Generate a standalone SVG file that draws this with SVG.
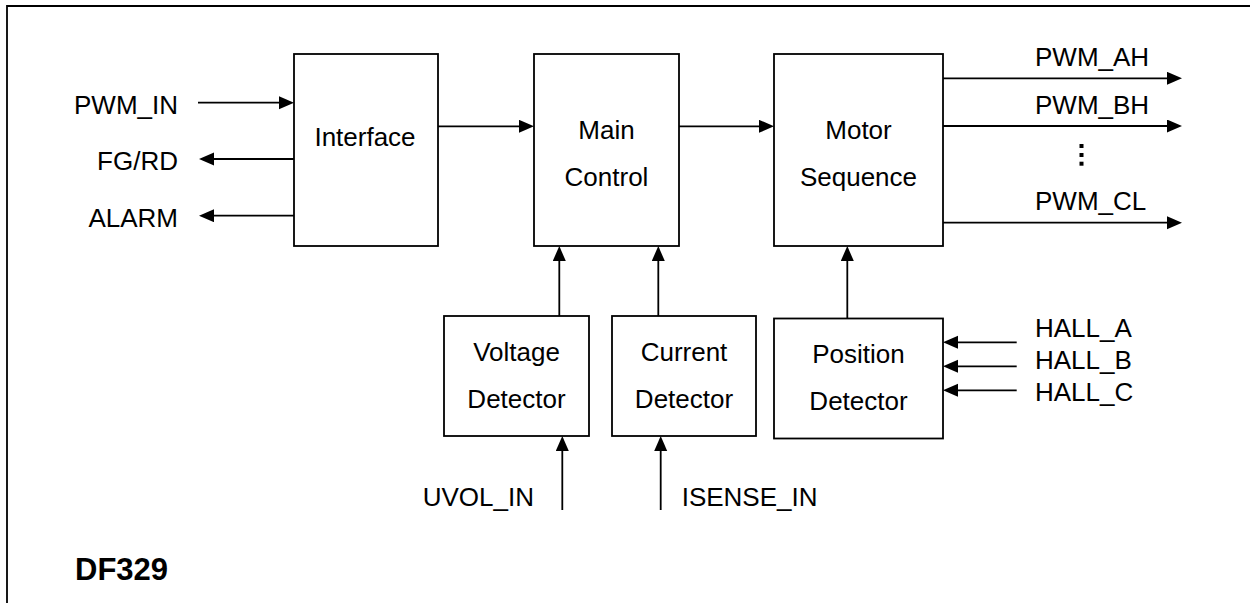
<svg xmlns="http://www.w3.org/2000/svg" width="1250" height="603" viewBox="0 0 1250 603">
<style>
  .box { fill: #fff; stroke: #000; stroke-width: 1.8; }
  .ln { stroke: #000; stroke-width: 1.8; fill: none; }
  text { font-family: "Liberation Sans", Arial, sans-serif; font-size: 26px; fill: #000; }
  .c { text-anchor: middle; }
  .e { text-anchor: end; }
  .title { font-weight: bold; font-size: 31px; }
</style>
<defs>
  <marker id="ah" markerUnits="userSpaceOnUse" markerWidth="16" markerHeight="14" refX="2" refY="6.5" orient="auto">
    <path d="M0,0 L15,6.5 L0,13 z" fill="#000"/>
  </marker>
</defs>
<rect width="1250" height="603" fill="#fff"/>
<g id="frame">
  <path class="ln" d="M7,603 V6 H1250"/>
</g>
<g id="interface">
  <rect class="box" x="294" y="54" width="144" height="192"/>
  <text class="c" x="365" y="146">Interface</text>
</g>
<g id="main-control">
  <rect class="box" x="534" y="54" width="145" height="192"/>
  <text class="c" x="606.5" y="139">Main</text>
  <text class="c" x="606.5" y="186">Control</text>
</g>
<g id="motor-sequence">
  <rect class="box" x="774" y="54" width="169" height="192"/>
  <text class="c" x="858.5" y="139">Motor</text>
  <text class="c" x="858.5" y="186">Sequence</text>
</g>
<g id="voltage-detector">
  <rect class="box" x="444" y="316" width="145" height="120"/>
  <text class="c" x="516.5" y="361">Voltage</text>
  <text class="c" x="516.5" y="408">Detector</text>
</g>
<g id="current-detector">
  <rect class="box" x="612" y="316" width="144" height="120"/>
  <text class="c" x="684" y="361">Current</text>
  <text class="c" x="684" y="408">Detector</text>
</g>
<g id="position-detector">
  <rect class="box" x="774" y="318.5" width="169" height="120"/>
  <text class="c" x="858.5" y="363">Position</text>
  <text class="c" x="858.5" y="409.5">Detector</text>
</g>
<g id="connectors">
  <line class="ln" x1="198" y1="102.7" x2="281" y2="102.7" marker-end="url(#ah)"/>
  <line class="ln" x1="294" y1="159" x2="212" y2="159" marker-end="url(#ah)"/>
  <line class="ln" x1="294" y1="215.7" x2="212" y2="215.7" marker-end="url(#ah)"/>
  <line class="ln" x1="438" y1="126.3" x2="521" y2="126.3" marker-end="url(#ah)"/>
  <line class="ln" x1="679" y1="126.3" x2="761" y2="126.3" marker-end="url(#ah)"/>
  <line class="ln" x1="943" y1="78.3" x2="1169" y2="78.3" marker-end="url(#ah)"/>
  <line class="ln" x1="943" y1="126" x2="1169" y2="126" marker-end="url(#ah)"/>
  <line class="ln" x1="943" y1="222.7" x2="1169" y2="222.7" marker-end="url(#ah)"/>
  <line class="ln" x1="559.3" y1="316" x2="559.3" y2="259" marker-end="url(#ah)"/>
  <line class="ln" x1="658.3" y1="316" x2="658.3" y2="259" marker-end="url(#ah)"/>
  <line class="ln" x1="847.3" y1="318.5" x2="847.3" y2="259" marker-end="url(#ah)"/>
  <line class="ln" x1="562.3" y1="510" x2="562.3" y2="449" marker-end="url(#ah)"/>
  <line class="ln" x1="660.7" y1="510" x2="660.7" y2="449" marker-end="url(#ah)"/>
  <line class="ln" x1="1016.7" y1="342.3" x2="956" y2="342.3" marker-end="url(#ah)"/>
  <line class="ln" x1="1016.7" y1="366.3" x2="956" y2="366.3" marker-end="url(#ah)"/>
  <line class="ln" x1="1016.7" y1="390.3" x2="956" y2="390.3" marker-end="url(#ah)"/>
</g>
<g id="labels">
  <text class="e" x="178" y="114">PWM_IN</text>
  <text class="e" x="178" y="170">FG/RD</text>
  <text class="e" x="178" y="227">ALARM</text>
  <text x="1035" y="66">PWM_AH</text>
  <text x="1035" y="114">PWM_BH</text>
  <text x="1035" y="210">PWM_CL</text>
  <text x="1035" y="337">HALL_A</text>
  <text x="1035" y="369">HALL_B</text>
  <text x="1035" y="401">HALL_C</text>
  <text x="422.7" y="506">UVOL_IN</text>
  <text x="681.7" y="506">ISENSE_IN</text>
  <text class="title" x="75" y="580">DF329</text>
</g>
<g id="ellipsis" fill="#000">
  <rect x="1079.5" y="144" width="4" height="4"/>
  <rect x="1079.5" y="153" width="4" height="4"/>
  <rect x="1079.5" y="161.7" width="4" height="4"/>
</g>
</svg>
